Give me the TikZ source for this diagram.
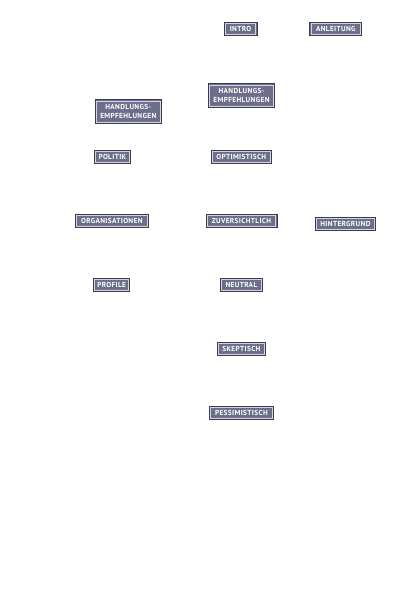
\documentclass[tikz,border=0pt]{standalone}
\usepackage{fontspec}
\newfontfamily\knopffont[LetterSpace=5]{PT Sans}
\definecolor{knopfrand}{HTML}{3A3C52}
\definecolor{knopfhell}{HTML}{D4D5DE}
\definecolor{knopfgrund}{HTML}{6C6F8C}
\tikzset{
  knopf/.style={draw=knopfrand, line width=1bp, fill=knopfgrund, inner sep=0pt,
    minimum height=13.5bp, text=white, align=center,
    font=\knopffont\bfseries\fontsize{7.3}{9}\selectfont,
    path picture={\draw[knopfhell, line width=0.8bp]
      ([shift={(1.3bp,-1.3bp)}]path picture bounding box.north west) rectangle
      ([shift={(-1.3bp,1.3bp)}]path picture bounding box.south east);}},
  knopfII/.style={knopf, minimum height=24bp}
}
\newcommand{\Knopf}[3][]{\node[knopf, #1] (#2) {#3};}
\newcommand{\KnopfII}[3][]{\node[knopfII, #1] (#2) {#3};}

\begin{document}
\begin{tikzpicture}[x=1bp, y=-1bp]
\useasboundingbox[fill=white] (0,0) rectangle (416,608);

\Knopf[at={(240.5,28.8)}, minimum width=33bp]{intro}{INTRO}
\Knopf[at={(335.8,28.8)}, minimum width=52bp]{anleitung}{ANLEITUNG}

\KnopfII[at={(241.5,95.8)}, minimum width=66.5bp]{empf}{HANDLUNGS-\\EMPFEHLUNGEN}
\KnopfII[at={(128.3,111.8)}, minimum width=66bp]{empfpol}{HANDLUNGS-\\EMPFEHLUNGEN}

\Knopf[at={(112.4,156.8)}, minimum width=36.5bp]{politik}{POLITIK}
\Knopf[at={(241.3,156.8)}, minimum width=60.5bp]{optimistisch}{OPTIMISTISCH}

\Knopf[at={(111.8,221)}, minimum width=73.5bp]{organisationen}{ORGANISATIONEN}
\Knopf[at={(241.5,220.8)}, minimum width=71bp]{zuversichtlich}{ZUVERSICHTLICH}
\Knopf[at={(345.4,224)}, minimum width=60.5bp]{hintergrund}{HINTERGRUND}

\Knopf[at={(111.7,284.8)}, minimum width=36.5bp]{profile}{PROFILE}
\Knopf[at={(241.4,284.8)}, minimum width=42.5bp]{neutral}{NEUTRAL}

\Knopf[at={(241.4,349)}, minimum width=48.5bp]{skeptisch}{SKEPTISCH}
\Knopf[at={(241.4,413.2)}, minimum width=64.5bp]{pessimistisch}{PESSIMISTISCH}

\end{tikzpicture}
\end{document}
